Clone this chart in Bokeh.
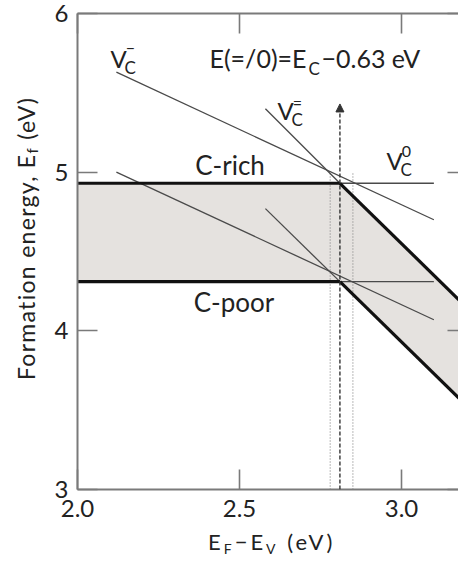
from bokeh.plotting import figure
from bokeh.layouts import row, column
from bokeh.models import (Range1d, LinearAxis, FixedTicker, NumeralTickFormatter,
                          Label, Arrow, NormalHead, Div)
from bokeh.embed import file_html
from bokeh.resources import INLINE

# ---------------- data ----------------
x_ticks = [2.0, 2.5, 3.0]
y_ticks = [3, 4, 5, 6]

conditions = ["C-rich", "C-poor"]
e_v0 = [4.93, 4.31]              # neutral vacancy formation energy
vminus_x = [2.12, 3.10]
vminus_rich = [5.63, 4.70]
vminus_poor = [5.00, 4.07]
v0_thin_x = [2.81, 3.10]
vdm_thin_x = [2.58, 2.81]
vdm_thin_rich = [5.40, 4.93]
vdm_thin_poor = [4.77, 4.31]
flat_x = [2.0, 2.81]
vdm_thick_x = [2.81, 3.20]
vdm_thick_rich = [4.93, 4.15]
vdm_thick_poor = [4.31, 3.53]
x_transition = 2.81              # E(=/0)
x_dotted = [2.78, 2.85]
dotted_top = 5.0
arrow_top = 5.43

# ---------------- layout ----------------
W, H = 458, 565
YW = 45                  # width of the strip holding the y-axis title
MH = 530                 # height of the main figure
L, T = 77, 13            # page position of the plot frame
FB = 489                 # page y of the frame bottom
X0, X1 = 2.0, 3.176
Y0, Y1 = 3.0, 6.0
FW, FH = W - L, FB - T
K = 0.4                  # baseline correction (em)

def dx(px):
    return X0 + (px - L) * (X1 - X0) / FW

def dy(py):
    return Y0 + (FB - py) * (Y1 - Y0) / FH

FONT = "Lato"
TXT = "#222222"
FRAME = "#7a7a7a"
THIN = "#4a4a4a"

p = figure(width=W - YW, height=MH, output_backend="svg", toolbar_location=None,
           x_range=Range1d(X0, X1), y_range=Range1d(Y0, Y1),
           x_axis_location=None, y_axis_location=None,
           min_border_left=L - YW, min_border_right=0, min_border_top=T,
           min_border_bottom=MH - FB)
p.outline_line_color = None
p.grid.visible = False
p.border_fill_color = "white"

def make_axis(ticks, fmt, show_labels, tick_len, standoff):
    ax = LinearAxis(ticker=FixedTicker(ticks=ticks), formatter=NumeralTickFormatter(format=fmt))
    ax.major_tick_in = tick_len
    ax.major_tick_out = 0
    ax.minor_tick_in = 0
    ax.minor_tick_out = 0
    ax.major_tick_line_color = FRAME
    ax.major_tick_line_width = 1.6
    ax.axis_line_color = FRAME
    ax.axis_line_width = 2
    ax.major_label_text_font = FONT
    ax.major_label_text_color = TXT
    ax.major_label_text_line_height = 1.0
    if show_labels:
        ax.major_label_text_font_size = "24px"
        ax.major_label_standoff = standoff
    else:
        ax.major_label_text_font_size = "0px"
        ax.major_label_standoff = 0
    return ax

p.add_layout(make_axis(x_ticks, "0.0", True, 20, 10), "below")
p.add_layout(make_axis(y_ticks, "0", True, 20, 9), "left")
p.add_layout(make_axis(x_ticks, "0.0", False, 20, 0), "above")
right = make_axis(y_ticks, "0", False, 11, 0)
right.axis_line_color = None
p.add_layout(right, "right")

# shaded band between C-rich and C-poor minima
band_x = [flat_x[0], flat_x[1], vdm_thick_x[1], vdm_thick_x[1], flat_x[1], flat_x[0]]
band_y = [e_v0[0], e_v0[0], vdm_thick_rich[1], vdm_thick_poor[1], e_v0[1], e_v0[1]]
p.patch(band_x, band_y, fill_color="#e5e2df", line_color=None)

# dotted / dashed verticals
for xd in x_dotted:
    p.line([xd, xd], [Y0, dotted_top], line_color="#8a8a8a", line_width=1.2, line_dash="1 2")
p.add_layout(Arrow(x_start=x_transition, y_start=Y0, x_end=x_transition, y_end=arrow_top,
                   line_color="#333333", line_width=1.4, line_dash="4 2",
                   end=NormalHead(size=8, fill_color="#333333", line_color="#333333")))

# thin lines
for e0, vm, vdm in [(e_v0[0], vminus_rich, vdm_thin_rich), (e_v0[1], vminus_poor, vdm_thin_poor)]:
    p.line(v0_thin_x, [e0, e0], line_color=THIN, line_width=1.3)
    p.line(vminus_x, vm, line_color=THIN, line_width=1.3)
    p.line(vdm_thin_x, vdm, line_color=THIN, line_width=1.3)

# thick minimum-energy lines
for e0, thick in [(e_v0[0], vdm_thick_rich), (e_v0[1], vdm_thick_poor)]:
    p.line(flat_x, [e0, e0], line_color="#111111", line_width=3.2)
    p.line(vdm_thick_x, thick, line_color="#111111", line_width=3.2)

def mlab(text, px, py, size, align="left"):
    # page pixel position of the text baseline -> data coordinates of the main plot
    p.add_layout(Label(x=dx(px), y=dy(py - K * size), text=text, text_font=FONT,
                       text_font_size=f"{size}px", text_color=TXT, text_align=align,
                       text_baseline="alphabetic"))

# condition labels
mlab(conditions[0], 229.5, 175, 26, align="center")
mlab(conditions[1], 233.5, 311.5, 26, align="center")

# transition level label
mlab("E(=/0)=E", 209, 67, 25)
mlab("C", 308, 75, 17)
mlab("\u22120.63 eV", 321, 67, 25)

# vacancy labels
for vx, vy in [(110, 68), (277, 120), (386, 170)]:
    mlab("V", vx, vy, 24)
    mlab("C", vx + 14, vy + 6, 17)
mlab("\u2212", 130, 54, 16, align="center")
mlab("=", 297, 108.5, 16, align="center")
mlab("0", 406, 157, 16, align="center")

# ---------------- axis titles (HTML text with real subscripts) ----------------
y_title_html = (
    f'<div style="position:relative;width:{YW}px;height:{MH}px;">'
    '<div style="position:absolute;left:14.6px;top:380px;transform:rotate(-90deg);'
    'transform-origin:0 0;white-space:nowrap;font-family:Lato;font-size:23px;'
    'line-height:23px;letter-spacing:1.3px;color:#222222;">'
    'Formation energy, E<span style="font-size:15px;position:relative;top:3px;">f</span>'
    ' (eV)</div></div>'
)
x_title_html = (
    f'<div style="position:relative;width:{W - YW}px;height:{H - MH}px;">'
    f'<div style="position:absolute;left:{208 - YW}px;top:0.5px;white-space:nowrap;'
    'font-family:Lato;font-size:22px;line-height:22px;letter-spacing:3px;color:#222222;">'
    'E<span style="font-size:14px;position:relative;top:4px;">F</span>&#8722;'
    'E<span style="font-size:14px;position:relative;top:4px;">V</span> (eV)</div></div>'
)
ydiv = Div(text=y_title_html, width=YW, height=MH, margin=(0, 0, 0, 0))
xdiv = Div(text=x_title_html, width=W - YW, height=H - MH, margin=(0, 0, 0, 0))

layout = row(ydiv, column(p, xdiv, spacing=0), spacing=0)
open("out.html", "w").write(file_html(layout, INLINE))
